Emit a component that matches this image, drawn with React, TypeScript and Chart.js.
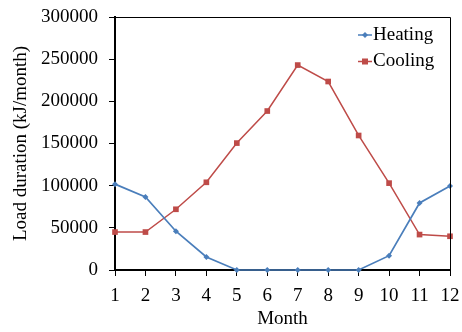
import React, { useEffect, useRef } from "react";
import { Chart, registerables } from "chart.js";

Chart.register(...registerables);

const months = ["1", "2", "3", "4", "5", "6", "7", "8", "9", "10", "11", "12"];
const heating = [101800, 86500, 46000, 15500, 0, 0, 0, 0, 0, 17000, 79500, 99500];
const cooling = [45000, 45000, 72000, 104000, 150500, 188500, 243000, 223500, 159500, 103000, 42000, 40000];
const yTicksMax = 300000;
const yTicksStep = 50000;

const FONT = "'Liberation Serif', 'Times New Roman', serif";
const BLUE = "#4A7EBB";
const RED = "#BE4B48";

const legendPlugin = {
  id: "customLegend",
  afterDraw(chart: any) {
    const { ctx, chartArea } = chart;
    const right = chartArea.right;
    const top = chartArea.top;
    const items = chart.data.datasets;
    ctx.save();
    items.forEach((ds: any, i: number) => {
      const y = top + 18 + i * 26.5;
      const x0 = right - 92;
      const x1 = right - 78;
      ctx.strokeStyle = ds.borderColor;
      ctx.lineWidth = 1.5;
      ctx.beginPath();
      ctx.moveTo(x0, y);
      ctx.lineTo(x1, y);
      ctx.stroke();
      const cx = (x0 + x1) / 2;
      ctx.fillStyle = ds.borderColor;
      if (ds.pointStyle === "rect") {
        ctx.fillRect(cx - 3, y - 3, 6, 6);
      } else {
        ctx.beginPath();
        ctx.moveTo(cx, y - 3);
        ctx.lineTo(cx + 3, y);
        ctx.lineTo(cx, y + 3);
        ctx.lineTo(cx - 3, y);
        ctx.closePath();
        ctx.fill();
      }
      ctx.fillStyle = "#000";
      ctx.font = `19px ${FONT}`;
      ctx.textBaseline = "middle";
      ctx.textAlign = "left";
      ctx.fillText(ds.label, x1 + 1, y);
    });
    // frame top and right
    ctx.strokeStyle = "#000";
    ctx.lineWidth = 1;
    ctx.beginPath();
    ctx.moveTo(chartArea.left, chartArea.top + 0.5);
    ctx.lineTo(chartArea.right + 0.5, chartArea.top + 0.5);
    ctx.lineTo(chartArea.right + 0.5, chartArea.bottom);
    ctx.stroke();
    ctx.restore();
  },
};

export default function App() {
  const ref = useRef<HTMLCanvasElement | null>(null);
  useEffect(() => {
    document.body.style.margin = "0";
    const canvas = ref.current!;
    const chart = new Chart(canvas, {
      type: "line",
      data: {
        labels: months,
        datasets: [
          {
            label: "Heating",
            data: heating,
            borderColor: BLUE,
            backgroundColor: BLUE,
            borderWidth: 1.7,
            pointStyle: "rectRot",
            pointRadius: 3,
            pointBorderWidth: 0,
            clip: false,
          },
          {
            label: "Cooling",
            data: cooling,
            borderColor: RED,
            backgroundColor: RED,
            borderWidth: 1.5,
            pointStyle: "rect",
            pointRadius: 4,
            pointBorderWidth: 0,
            clip: false,
          },
        ],
      },
      options: {
        animation: false,
        responsive: false,
        maintainAspectRatio: false,
        layout: { autoPadding: false, padding: { top: 17, right: 12, left: 0, bottom: 0 } },
        plugins: { legend: { display: false }, tooltip: { enabled: false } },
        scales: {
          x: {
            type: "category",
            offset: false,
            grid: { drawOnChartArea: false, drawTicks: true, tickLength: 6, color: "#000", offset: false },
            border: { color: "#000", width: 2 },
            ticks: { color: "#000", font: { family: FONT, size: 19 }, padding: 9, maxRotation: 0, autoSkip: false },
            title: { display: true, text: "Month", color: "#000", font: { family: FONT, size: 19 }, padding: { top: 0, bottom: 2 } },
            afterFit: (s: any) => { s.height = 62; s.paddingLeft = 0; s.paddingRight = 0; },
          },
          y: {
            min: 0,
            max: yTicksMax,
            grid: { drawOnChartArea: false, drawTicks: true, tickLength: 6, color: "#000" },
            border: { color: "#000", width: 2 },
            ticks: {
              stepSize: yTicksStep,
              color: "#000",
              font: { family: FONT, size: 19 },
              padding: 11,
              callback: (v: any) => String(v),
            },
            title: { display: true, text: "Load duration (kJ/month)", color: "#000", font: { family: FONT, size: 19 }, padding: { top: 10, bottom: 0 } },
            afterFit: (s: any) => { s.width = 115; s.paddingTop = 0; s.paddingBottom = 0; },
          },
        },
      },
      plugins: [legendPlugin],
    });
    return () => chart.destroy();
  }, []);
  return <canvas ref={ref} width={462} height={332} style={{ display: "block" }} />;
}
